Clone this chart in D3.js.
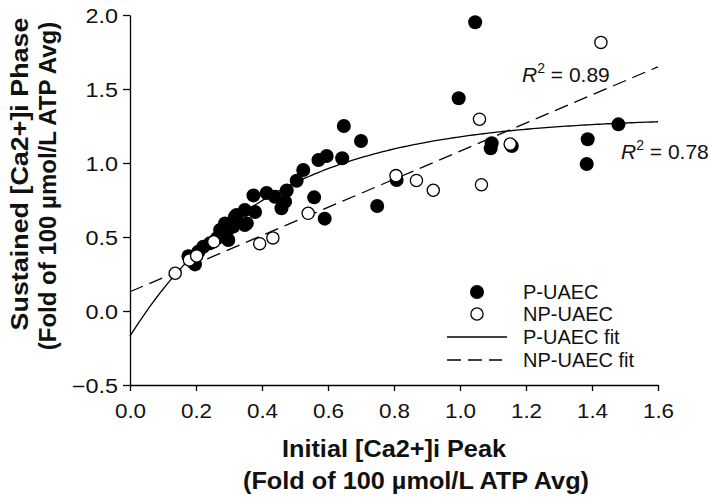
<!DOCTYPE html>
<html><head><meta charset="utf-8">
<script src="https://cdn.jsdelivr.net/npm/d3@7"></script>
<style>html,body{margin:0;padding:0;background:#fff;} svg{display:block;font-family:"Liberation Sans",Arial,sans-serif;}</style>
</head><body>
<svg id="c" width="709" height="500"></svg>
<script>
// ---- data ----
const pX = [0.177,0.197,0.207,0.222,0.242,0.263,0.298,0.273,0.293,0.288,0.313,0.323,0.348,0.348,0.379,0.374,0.414,0.439,0.459,0.470,0.475,0.505,0.525,0.571,0.596,0.558,0.590,0.643,0.648,0.700,0.749,0.808,0.996,1.046,1.096,1.093,1.157,1.387,1.384,1.480,0.354,0.318];
const pY = [0.370,0.315,0.400,0.434,0.457,0.491,0.480,0.547,0.536,0.592,0.570,0.649,0.581,0.682,0.669,0.781,0.797,0.772,0.694,0.739,0.814,0.880,0.953,1.020,1.047,0.768,0.624,1.032,1.250,1.149,0.709,0.885,1.437,1.951,1.133,1.099,1.115,1.160,0.993,1.261,0.592,0.637];
const npX = [0.137,0.180,0.202,0.254,0.393,0.433,0.540,0.806,0.868,0.919,1.065,1.059,1.152,1.427];
const npY = [0.255,0.345,0.372,0.468,0.455,0.494,0.660,0.915,0.882,0.816,0.853,1.296,1.128,1.815];
// fit coefficients: P-UAEC y = y0 + a(1-exp(-b x)); NP-UAEC y = c0 + c1 x
const pFit = [-0.17, 1.48, 2.41];
const npFit = [0.13, 0.95];
const xTicks = [0,0.2,0.4,0.6,0.8,1.0,1.2,1.4,1.6];
const yTicks = [-0.5,0,0.5,1.0,1.5,2.0];
const legendLabels = ["P-UAEC","NP-UAEC","P-UAEC fit","NP-UAEC fit"];

const svg = d3.select("#c");
const x = d3.scaleLinear().domain([0,1.6]).range([130,658]);
const y = d3.scaleLinear().domain([-0.5,2.0]).range([385,15]);

// axes
const gx = svg.append("g").attr("transform","translate(0,385)")
  .call(d3.axisBottom(x).tickValues(xTicks).tickFormat(d3.format(".1f")).tickSize(6).tickSizeOuter(0));
const gy = svg.append("g").attr("transform","translate(130,0)")
  .call(d3.axisLeft(y).tickValues(yTicks).tickFormat(d=>d3.format(".1f")(d).replace("-","\u2212")).tickSize(7).tickSizeOuter(0));
[gx,gy].forEach(g=>{
  g.select(".domain").attr("stroke","#000").attr("stroke-width",1.3);
  g.selectAll(".tick line").attr("stroke","#000").attr("stroke-width",1.3);
  g.selectAll(".tick text").attr("fill","#111").attr("font-size",19.5).attr("font-family","Liberation Sans, Arial, sans-serif");
});
gx.selectAll(".tick text").attr("y",0).attr("dy",0).attr("transform","translate(0,418) scale(1.15,1)".replace("418","33"));
gy.selectAll(".tick text").attr("x",0).attr("dy","0.36em").attr("transform","translate(-12,0) scale(1.2,1)");

// fit lines
const xs = d3.range(0,1.6001,0.01);
svg.append("path")
  .attr("d", d3.line().x(d=>x(d)).y(d=>y(pFit[0]+pFit[1]*(1-Math.exp(-pFit[2]*d))))(xs))
  .attr("fill","none").attr("stroke","#000").attr("stroke-width",1.3);
svg.append("path")
  .attr("d", d3.line().x(d=>x(d)).y(d=>y(npFit[0]+npFit[1]*d))([0,1.6]))
  .attr("fill","none").attr("stroke","#000").attr("stroke-width",1.3).attr("stroke-dasharray","14,7");

// points
svg.append("g").selectAll("circle").data(pX.map((v,i)=>[v,pY[i]])).join("circle")
  .attr("cx",d=>x(d[0])).attr("cy",d=>y(d[1])).attr("r",7).attr("fill","#000");
svg.append("g").selectAll("circle").data(npX.map((v,i)=>[v,npY[i]])).join("circle")
  .attr("cx",d=>x(d[0])).attr("cy",d=>y(d[1])).attr("r",6.1).attr("fill","#fff").attr("stroke","#000").attr("stroke-width",1.3);

// helper for text
function txt(str, tx, ty, size, opts={}){
  const t = svg.append("text")
    .attr("transform",`translate(${tx},${ty}) rotate(${opts.rot||0}) scale(${opts.sx||1},1)`)
    .attr("font-size",size).attr("fill","#111")
    .attr("text-anchor",opts.anchor||"start")
    .attr("font-weight",opts.bold?"bold":"normal");
  if(str!==null) t.text(str);
  return t;
}

// axis titles
txt("Initial [Ca2+]i Peak", 394, 457, 23, {bold:true, anchor:"middle", sx:1.1});
txt("(Fold of 100 \u00b5mol/L ATP Avg)", 416, 489, 23, {bold:true, anchor:"middle", sx:1.1});
txt("Sustained [Ca2+]i Phase", 28, 174, 24, {bold:true, anchor:"middle", rot:-90, sx:1.12});
txt("(Fold of 100 \u00b5mol/L ATP Avg)", 56, 186, 24, {bold:true, anchor:"middle", rot:-90, sx:1.0});

// R^2 labels
function r2(tx,ty,val){
  const t = txt(null, tx, ty, 21);
  t.append("tspan").attr("font-style","italic").text("R");
  t.append("tspan").attr("font-size",14).attr("dy",-9).text("2");
  t.append("tspan").attr("dy",9).text(" = "+val);
}
r2(522, 82, "0.89");
r2(621, 159, "0.78");

// legend
const lg = svg.append("g");
lg.append("circle").attr("cx",477).attr("cy",292).attr("r",7).attr("fill","#000");
lg.append("circle").attr("cx",477).attr("cy",314).attr("r",6.1).attr("fill","#fff").attr("stroke","#000").attr("stroke-width",1.3);
lg.append("line").attr("x1",447).attr("x2",507).attr("y1",337).attr("y2",337).attr("stroke","#000").attr("stroke-width",1.3);
lg.append("line").attr("x1",447).attr("x2",502).attr("y1",360).attr("y2",360).attr("stroke","#000").attr("stroke-width",1.3).attr("stroke-dasharray","14,7");
const ly = [292,314,337,360];
legendLabels.forEach((l,i)=>{ txt(l, 523, ly[i]+7, 20); });
</script>
</body></html>
